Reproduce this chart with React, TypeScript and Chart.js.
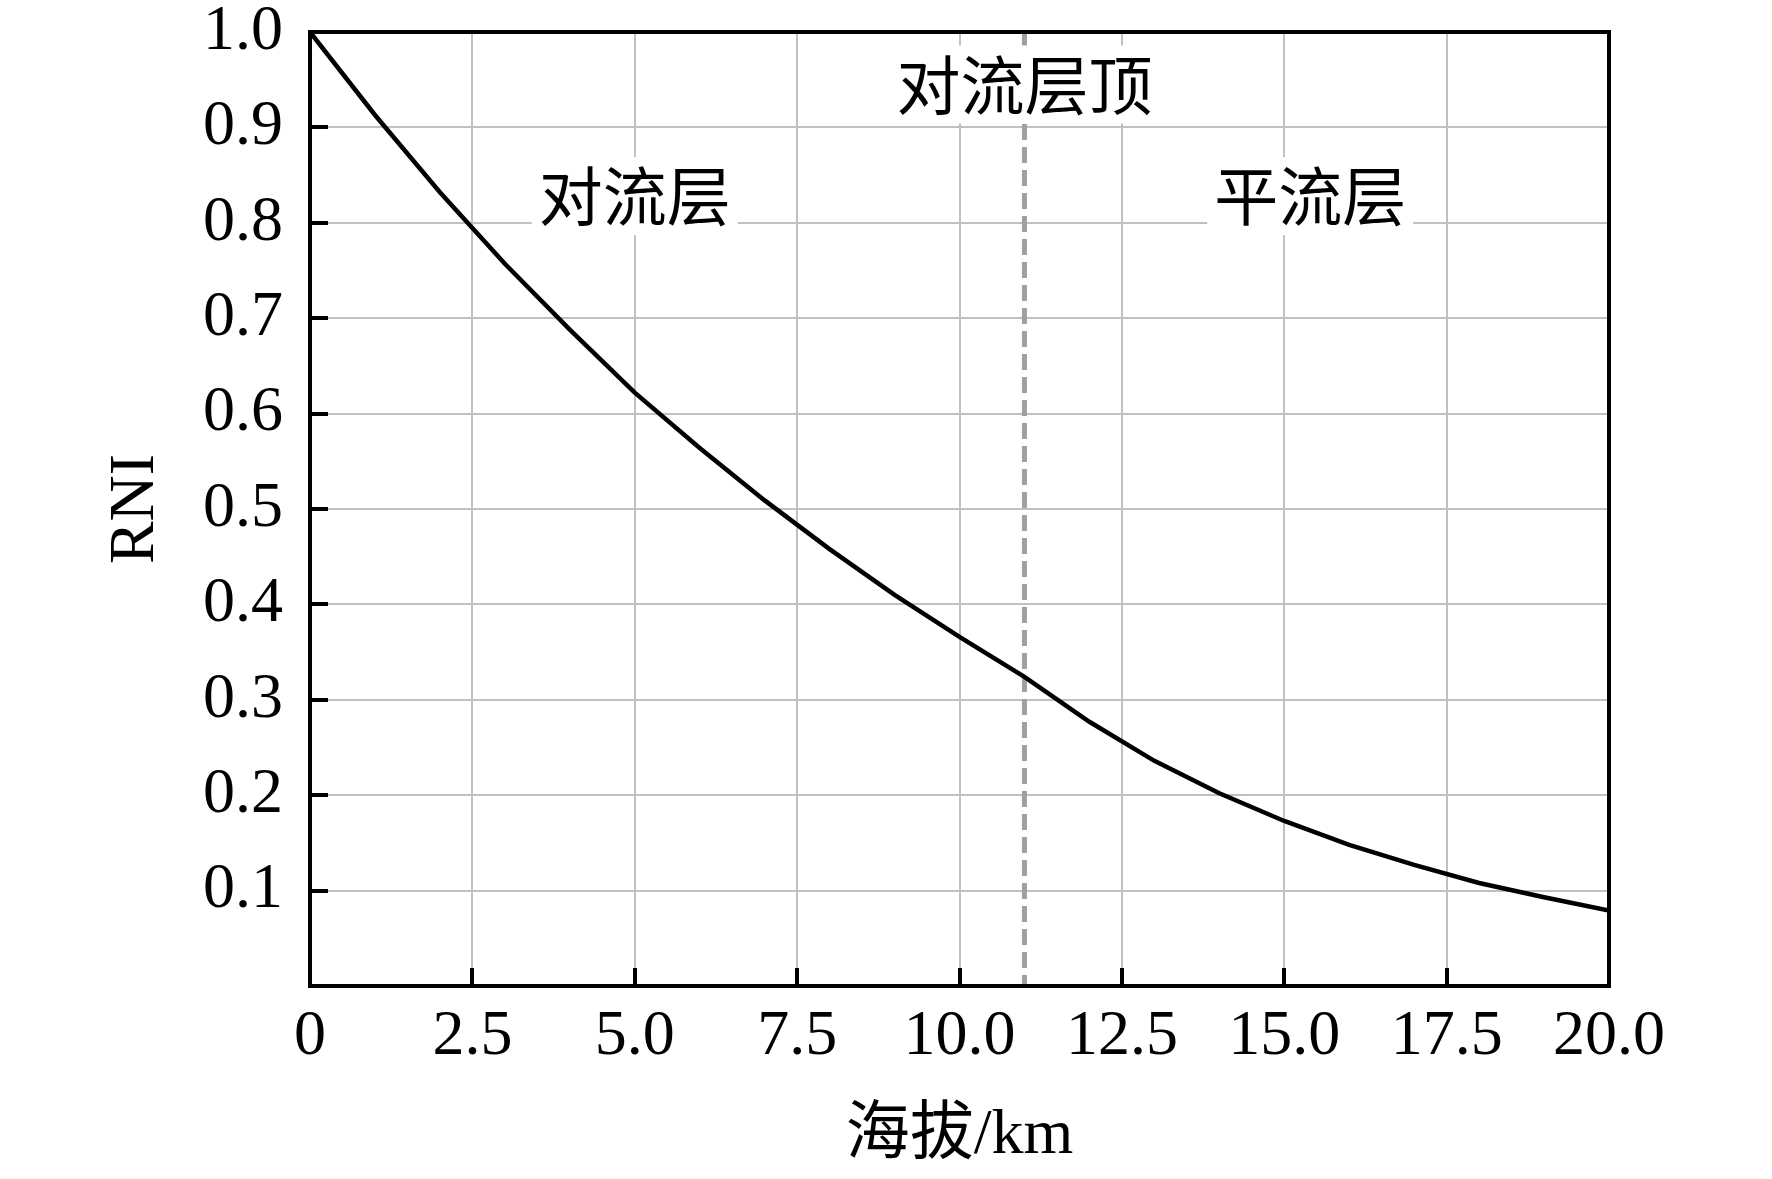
import { Chart, registerables } from "chart.js";
import React, { useEffect, useRef } from "react";

Chart.register(...registerables);

// altitude (km) and relative value
const altitudeKm = [0, 1, 2, 3, 4, 5, 6, 7, 8, 9, 10, 11, 12, 13, 14, 15, 16, 17, 18, 19, 20];
const rniValues = [
  1.0, 0.913, 0.832, 0.757, 0.688, 0.622, 0.564, 0.509, 0.458, 0.41, 0.366, 0.324, 0.277, 0.236,
  0.202, 0.173, 0.148, 0.127, 0.108, 0.093, 0.079,
];

const tropopauseKm = 11;
const layerLabels = ["对流层", "平流层", "对流层顶"];
const layerLabelX = [5.0, 15.4, 11.0];
const layerLabelY = [0.828, 0.828, 0.945];

const xTitle = "海拔/km";
const yTitle = "RNI";

const FONT = "'Liberation Serif', 'Noto Sans CJK SC', serif";

const layersPlugin = {
  id: "layers",
  beforeDatasetsDraw(chart: any) {
    const { ctx, chartArea, scales } = chart;
    const x = scales.x.getPixelForValue(tropopauseKm);
    ctx.save();
    ctx.strokeStyle = "#a0a0a0";
    ctx.lineWidth = 5;
    ctx.setLineDash([16, 7]);
    ctx.beginPath();
    ctx.moveTo(x, chartArea.top);
    ctx.lineTo(x, chartArea.bottom);
    ctx.stroke();
    ctx.restore();
  },
  afterDatasetsDraw(chart: any) {
    const { ctx, chartArea, scales } = chart;
    ctx.save();
    ctx.font = `64px 'Noto Sans CJK SC', sans-serif`;
    ctx.textAlign = "center";
    ctx.textBaseline = "middle";
    layerLabels.forEach((text, i) => {
      const cx = scales.x.getPixelForValue(layerLabelX[i]);
      const cy = scales.y.getPixelForValue(layerLabelY[i]);
      const w = ctx.measureText(text).width + 14;
      const h = 78;
      ctx.fillStyle = "#ffffff";
      ctx.fillRect(cx - w / 2, cy - h / 2, w, h);
      ctx.fillStyle = "#000000";
      ctx.fillText(text, cx, cy);
    });
    ctx.lineWidth = 4;
    ctx.strokeStyle = "#000000";
    ctx.strokeRect(
      chartArea.left,
      chartArea.top,
      chartArea.right - chartArea.left,
      chartArea.bottom - chartArea.top
    );
    ctx.restore();
  },
};

function renderChart(canvas: HTMLCanvasElement) {
  return new Chart(canvas, {
    type: "line",
    data: {
      datasets: [
        {
          data: altitudeKm.map((x, i) => ({ x, y: rniValues[i] })),
          borderColor: "#000000",
          borderWidth: 4.5,
          pointRadius: 0,
          tension: 0,
          fill: false,
        },
      ],
    },
    options: {
      animation: false,
      responsive: false,
      devicePixelRatio: 1,
      layout: { padding: { top: 32, right: 163, left: 0, bottom: 0 } },
      plugins: { legend: { display: false }, tooltip: { enabled: false } },
      scales: {
        x: {
          type: "linear",
          min: 0,
          max: 20,
          afterFit: (scale: any) => {
            scale.height = 193;
            scale.paddingLeft = 0;
            scale.paddingRight = 0;
          },
          ticks: {
            stepSize: 2.5,
            padding: 31,
            color: "#000000",
            font: { family: FONT, size: 64 },
            maxRotation: 0,
            callback: (v: any) => (v === 0 ? "0" : Number(v).toFixed(1)),
          },
          grid: {
            color: "#c0c0c0",
            lineWidth: 2,
            tickColor: "#000000",
            tickWidth: 4,
            tickLength: -18,
          },
          border: { display: false },
          title: {
            display: true,
            text: xTitle,
            color: "#000000",
            font: { family: FONT, size: 64 },
            padding: { top: 0, bottom: 4 },
          },
        },
        y: {
          min: 0,
          max: 1,
          afterFit: (scale: any) => {
            scale.width = 310;
            scale.paddingTop = 0;
            scale.paddingBottom = 0;
          },
          ticks: {
            stepSize: 0.1,
            padding: 45,
            color: "#000000",
            font: { family: FONT, size: 64 },
            callback: (v: any) => (Math.abs(v) < 1e-9 ? "" : Number(v).toFixed(1)),
          },
          grid: {
            color: "#c0c0c0",
            lineWidth: 2,
            tickColor: "#000000",
            tickWidth: 4,
            tickLength: -18,
          },
          border: { display: false },
          title: {
            display: true,
            text: yTitle,
            color: "#000000",
            font: { family: FONT, size: 64 },
            padding: { top: 98, bottom: 0 },
          },
        },
      },
    },
    plugins: [layersPlugin],
  });
}

export default function App() {
  const chartRef = useRef<HTMLCanvasElement>(null);

  useEffect(() => {
    if (!chartRef.current) return;
    const chart = renderChart(chartRef.current);
    return () => chart.destroy();
  }, []);

  return (
    <div style={{ position: "absolute", left: 0, top: 0, width: 1772, height: 1179, background: "#fff" }}>
      <canvas ref={chartRef} width={1772} height={1179}></canvas>
    </div>
  );
}
